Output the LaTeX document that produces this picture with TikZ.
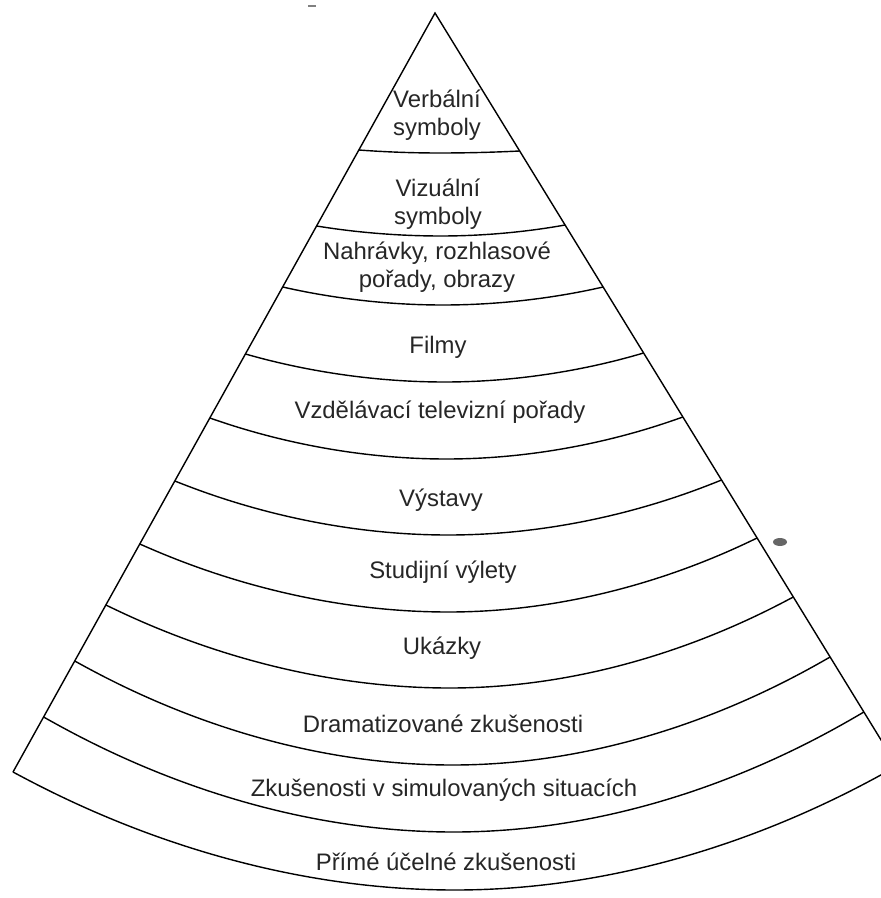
\documentclass[tikz,border=0pt]{standalone}
\usepackage{fontspec}
\setmainfont{Liberation Sans}
\begin{document}
\begin{tikzpicture}[x=0.02cm,y=-0.02cm,line width=0.8pt,
lbl/.style={font=\fontsize{13.6}{15.6}\selectfont,align=center,inner sep=0pt,text=black!85}]
\useasboundingbox(0,0)rectangle(881,898);
\clip(0,0)rectangle(881,898);
\coordinate(apex)at(435,13);
\coordinate(lc)at(13,772);
\coordinate(rc)at(897,766);
% cone outline
\draw(lc)--(apex)--(rc);
\draw(lc)parabola bend(455,890)(rc);
% band boundaries: left y / middle y / right y
\foreach \yl/\ym/\yr in {150/153/151,226/236/225,287/305/287,354/382/353,418/459/417,
481/535/480,544/612/538,605/688/597,661/765/657,717/832/712}{
\draw({435-(\yl-13)/759*422},\yl)parabola bend({(870-(\yl-13)/759*422+(\yr-13)/753*462)/2},\ym)({435+(\yr-13)/753*462},\yr);
}
\node[lbl](verbal)at(437,115){Verbální\\symboly};
\node[lbl](visual)at(438,204){Vizuální\\symboly};
\node[lbl](records)at(437,267){Nahrávky, rozhlasové\\pořady, obrazy};
\node[lbl](films)at(438,347){Filmy};
\node[lbl](tv)at(440,412){Vzdělávací televizní pořady};
\node[lbl](exhib)at(441,500){Výstavy};
\node[lbl](trips)at(443,572){Studijní výlety};
\node[lbl](demos)at(442,648){Ukázky};
\node[lbl](drama)at(443,724){Dramatizované zkušenosti};
\node[lbl](simul)at(444,790){Zkušenosti v simulovaných situacích};
\node[lbl](direct)at(446,862){Přímé účelné zkušenosti};
% specks of the scan
\fill[black!60](780,542)ellipse[x radius=7,y radius=4];
\draw[black!50,line width=0.6pt](308,6)--(316,6);
\end{tikzpicture}
\end{document}
